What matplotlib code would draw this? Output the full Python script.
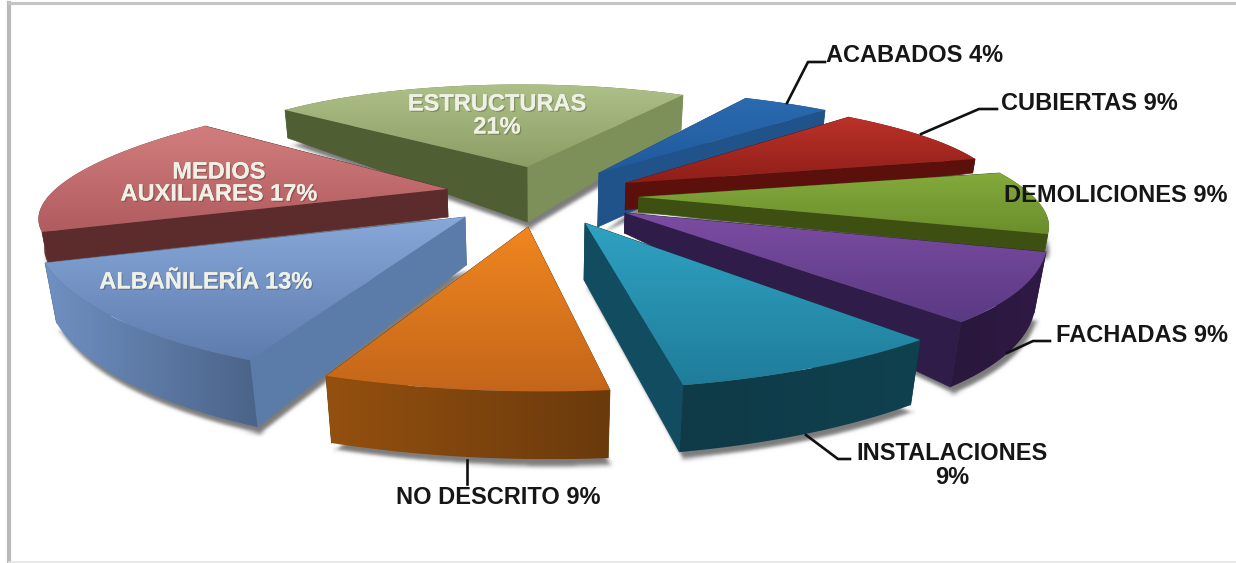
import numpy as np
import matplotlib
matplotlib.use('Agg')
import matplotlib.pyplot as plt
from matplotlib.patches import Polygon
from matplotlib.colors import LinearSegmentedColormap
import matplotlib.patheffects as pe

plt.rcParams['font.family'] = ['Liberation Sans', 'DejaVu Sans']

# shares in the order they run clockwise round the pie
categories = ['ESTRUCTURAS', 'ACABADOS', 'CUBIERTAS', 'DEMOLICIONES', 'FACHADAS',
              'INSTALACIONES', 'NO DESCRITO', 'ALBAÑILERÍA', 'MEDIOS AUXILIARES']
values = [21, 4, 9, 9, 9, 9, 9, 13, 17]
start_angle = -45

# where each exploded slice sits, and how the tilted view squashes it
apex = [(527, 167), (599, 173), (626, 183), (639, 197), (625, 213),
        (585, 223), (528, 227), (465, 217), (447, 189)]
warp = [(328.9, -13.3, -1.9, -82.5), (364.3, -44.6, -4.8, -84.2),
        (369.9, -54.5, -4.8, -88.5), (394.7, -110.9, -0.1, -109.6),
        (408.5, -108.4, -11.4, -146.9), (478.0, -53.4, -21.5, -164.8),
        (511.8, -34.0, -5.8, -164.3), (431.0, 21.7, -1.5, -159.7),
        (403.9, 61.6, -14.6, -103.7)]
# wall height at first rim end, apex, last rim end
depth = [(28, 55, 35), (15, 54, 15), (14, 27, 14), (15, 15, 18), (61, 20, 65),
         (65, 57, 67), (68, 68, 67), (67, 48, 60), (30, 28, 30)]
draw_order = [0, 8, 1, 2, 3, 4, 7, 5, 6]

top_colors = [('#adc088', '#8c9e64'), ('#2b6ab0', '#1f5a9c'), ('#bc3229', '#8e1e19'),
              ('#84aa3c', '#6b8e2c'), ('#7c4da3', '#5a3983'), ('#2fa2c2', '#1f7d9a'),
              ('#f0861f', '#c4661a'), ('#88a8da', '#5e7cad'), ('#d27d7d', '#b05c60')]
rim_colors = [('#66784a', '#66784a'), ('#1f4f82', '#1f4f82'), ('#5c100c', '#5c100c'),
              ('#3f5213', '#3f5213'), ('#2e1a44', '#2a173c'), ('#10414f', '#0f3a47'),
              ('#6a3a0c', '#94500f'), ('#4a6388', '#7090c2'), ('#5c2c2c', '#5c2c2c')]
edge_colors = [('#4f5f33', '#7e9059'), ('#1f4f82', '#20538a'), ('#5c100c', '#5c100c'),
               ('#3d5012', '#3d5012'), ('#2e1a44', '#301c48'), ('#0f3a47', '#124c60'),
               ('#6a3a0c', '#6a3a0c'), ('#5b7ba8', '#4d688f'), ('#5c2c2c', '#5c2c2c')]

dark_labels = [('ACABADOS 4%', 915, 56), ('CUBIERTAS 9%', 1089, 103),
               ('DEMOLICIONES 9%', 1116, 196), ('FACHADAS 9%', 1142, 335),
               ('INSTALACIONES', 952, 453), ('9%', 952, 477), ('NO DESCRITO 9%', 498, 497)]
light_labels = [('ESTRUCTURAS', 497, 104), ('21%', 497, 127), ('MEDIOS', 219, 172),
                ('AUXILIARES 17%', 219, 194), ('ALBAÑILERÍA 13%', 206, 282)]
leaders = [[(787, 103), (808, 62), (825, 62)], [(921, 134), (979, 109), (997, 109)],
           [(1007, 353), (1033, 341), (1050, 341)], [(806, 435), (838, 459), (850, 459)],
           [(467, 460), (467, 484)]]


def sink(pts, d):
    # walls lean a little to the vanishing point, more where they are tall
    out = np.array(pts, dtype=float)
    d = np.asarray(d, dtype=float)
    out[:, 0] = out[:, 0] - 0.025 * (out[:, 0] - 540) * d / 65
    out[:, 1] = out[:, 1] + d
    return out


def soft(img, dpi):
    # blur for the drop shadow
    pad = 14
    img = np.pad(img, ((pad, pad), (pad, pad), (0, 0)))
    kernel = np.exp(-np.linspace(-2, 2, 13) ** 2)
    kernel = kernel / kernel.sum()
    for axis in (0, 1):
        img = np.apply_along_axis(lambda r: np.convolve(r, kernel, mode='same'), axis, img)
    return img, -pad, -pad


def gradient_fill(ax, poly, colors, vertical, z, name):
    patch = Polygon(poly, closed=True, fc='none', ec='none', zorder=z)
    ax.add_patch(patch)
    cmap = LinearSegmentedColormap.from_list(name, colors)
    ramp = np.linspace(0, 1, 128).reshape(-1, 1) if vertical else np.linspace(0, 1, 128).reshape(1, -1)
    im = ax.imshow(ramp, cmap=cmap, aspect='auto', interpolation='bilinear', zorder=z,
                   extent=[poly[:, 0].min(), poly[:, 0].max(), poly[:, 1].max(), poly[:, 1].min()])
    im.set_clip_path(patch)


fig = plt.figure(figsize=(12.36, 5.63), dpi=100, facecolor='white')
ax = fig.add_axes([0, 0, 1, 1])

cum = np.concatenate([[0], np.cumsum(values)]) / sum(values) * 360 + start_angle

for n, i in enumerate(draw_order):
    z = 10 + n
    th = np.radians(np.linspace(cum[i], cum[i + 1], 80))
    m = warp[i]
    ax0, ay0 = apex[i]
    rim = np.column_stack([ax0 + m[0] * np.sin(th) + m[1] * np.cos(th),
                           ay0 + m[2] * np.sin(th) + m[3] * np.cos(th)])
    d1, d0, d2 = depth[i]
    low = sink(rim, np.linspace(d1, d2, len(rim)))
    tip = np.array([[ax0, ay0]], dtype=float)
    tip_low = sink(tip, [d0])

    # soft shadow on the page only, below every slice
    foot = np.vstack([tip_low, low]) + np.array([3, 7])
    shadow = Polygon(foot, closed=True, fc='#444444', ec='none', alpha=0.7, zorder=5)
    shadow.set_agg_filter(soft)
    ax.add_patch(shadow)

    # hidden faces first, so a back face never paints over a front one
    faces = [(rim[0], low[0], edge_colors[i][0]), (rim[-1], low[-1], edge_colors[i][1])]
    faces.sort(key=lambda f: f[0][1])
    rim_behind = rim[:, 1].mean() < ay0
    wall = np.vstack([rim, low[::-1]])
    colors = rim_colors[i] if rim[0, 0] < rim[-1, 0] else rim_colors[i][::-1]
    gradient_fill(ax, wall, colors, False, z + (0.0 if rim_behind else 0.2), 'wall%d' % i)
    for k, (top_end, low_end, col) in enumerate(faces):
        ax.add_patch(Polygon([tip[0], top_end, low_end, tip_low[0]], closed=True, fc=col, ec=col,
                             lw=0.5, zorder=z + 0.1 + k * 0.01))
    # top face with its vertical gradient
    gradient_fill(ax, np.vstack([tip, rim]), top_colors[i], True, z + 0.3, 'top%d' % i)

for pts in leaders:
    xs, ys = zip(*pts)
    ax.plot(xs, ys, color='#111111', lw=1.9, zorder=30, solid_joinstyle='round')

for txt, x, y in dark_labels:
    ax.text(x, y, txt, color='#161616', fontsize=17, fontweight='bold', ha='center', va='center',
            zorder=40)
for txt, x, y in light_labels:
    ax.text(x, y, txt, color='#f0f1e6', fontsize=17, fontweight='bold', ha='center', va='center',
            zorder=40, path_effects=[pe.withSimplePatchShadow(offset=(1, -1), shadow_rgbFace='k',
                                                              alpha=0.2), pe.Normal()])

# the grey frame of the pasted picture
ax.plot([9, 9], [3, 563], color='#b9b9b9', lw=3, zorder=1)
ax.plot([9, 1236], [3, 3], color='#c4c4c4', lw=2.2, zorder=1)
ax.plot([9, 1236], [561.5, 561.5], color='#e4e4e4', lw=1.2, zorder=1)

ax.set_xlim(0, 1236)
ax.set_ylim(563, 0)
ax.axis('off')

fig.savefig('out.png', dpi=100)
